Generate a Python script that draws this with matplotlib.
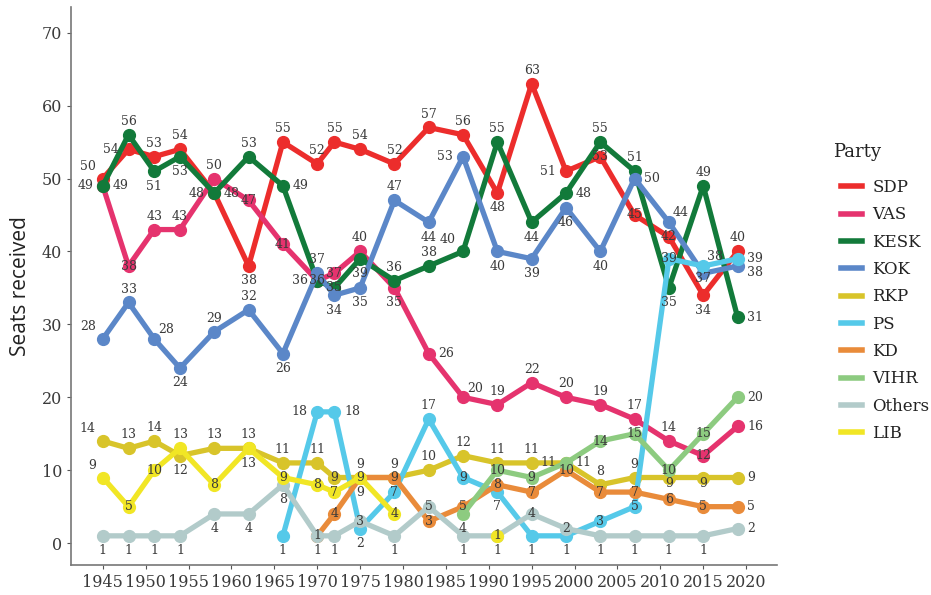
import numpy as np
import matplotlib
matplotlib.use("Agg")
from matplotlib import pyplot as plt

nan = np.nan

years = [1945, 1948, 1951, 1954, 1958, 1962, 1966, 1970, 1972, 1975, 1979,
         1983, 1987, 1991, 1995, 1999, 2003, 2007, 2011, 2015, 2019]

sdp = [50, 54, 53, 54, 48, 38, 55, 52, 55, 54, 52, 57, 56, 48, 63, 51, 53, 45, 42, 34, 40]
vas = [49, 38, 43, 43, 50, 47, 41, 36, 37, 40, 35, 26, 20, 19, 22, 20, 19, 17, 14, 12, 16]
kesk = [49, 56, 51, 53, 48, 53, 49, 36, 35, 39, 36, 38, 40, 55, 44, 48, 55, 51, 35, 49, 31]
kok = [28, 33, 28, 24, 29, 32, 26, 37, 34, 35, 47, 44, 53, 40, 39, 46, 40, 50, 44, 37, 38]
rkp = [14, 13, 14, 12, 13, 13, 11, 11, 9, 9, 9, 10, 12, 11, 11, 11, 8, 9, 9, 9, 9]
ps = [nan, nan, nan, nan, nan, nan, 1, 18, 18, 2, 7, 17, 9, 7, 1, 1, 3, 5, 39, 38, 39]
kd = [nan, nan, nan, nan, nan, nan, nan, 1, 4, 9, 9, 3, 5, 8, 7, 10, 7, 7, 6, 5, 5]
vihr = [nan] * 12 + [4, 10, 9, 11, 14, 15, 10, 15, 20]
others = [1, 1, 1, 1, 4, 4, 8, 1, 1, 3, 1, 5, 1, 1, 4, 2, 1, 1, 1, 1, 2]
lib = [9, 5, 10, 13, 8, 13, 9, 8, 7, 9, 4, nan, nan, 1, nan, nan, nan, nan, nan, nan, nan]

parties = ["SDP", "VAS", "KESK", "KOK", "RKP", "PS", "KD", "VIHR", "Others", "LIB"]
seats = [sdp, vas, kesk, kok, rkp, ps, kd, vihr, others, lib]
colours = ["#EC2D2C", "#E5336E", "#127A3A", "#5B87C8", "#D8C42A",
           "#55C9E9", "#E98B3A", "#8DCB80", "#B2CBCA", "#F1E625"]

# where each number label sits relative to its point
# a above, b below, l left, r right, ul/ur upper left/right, br lower right,
# c on the point, cb just under the point
lab_pos = [
    "ul l a a l b a a a a a a a b a l c c c b a",
    "r c a a a c c c c a b r ur a a a a a a c r",
    "l a b b r a r l c b a a ul a b r a a b a r",
    "ul a ur b a a b a b b a b l b b b b r ur cb br",
    "ul a a b a a a a c a a a a a a r a a cb cb r",
    "- - - - - - b l r b c a c b b b c c c ur r",
    "- - - - - - - c c b c c c c c c c c c c r",
    "- - - - - - - - - - - - b c c l c c c c r",
    "b b b b b b b b b c b c b b c c b b b b r",
    "ul c c a c b c c c c c - - c - - - - - - -",
]
offsets = {"a": ((0, 5), "center", "bottom"), "b": ((0, -6), "center", "top"),
           "l": ((-7, 0), "right", "center"), "r": ((7, 0), "left", "center"),
           "ul": ((-5, 4), "right", "bottom"), "ur": ((3, 2), "left", "bottom"),
           "br": ((7, -5), "left", "center"), "c": ((0, 0), "center", "center"),
           "cb": ((0, -4), "center", "center")}

serif = "DejaVu Serif"
txtcol = "#3a3a3a"

fig = plt.figure(figsize=(9.31, 5.95), dpi=100)
ax = fig.add_axes([0.0763, 0.0504, 0.7583, 0.9376])

for i, (name, vals, col) in enumerate(zip(parties, seats, colours)):
    y = np.array(vals, dtype=float)
    ax.plot(years, y, color=col, lw=3.8, marker="o", ms=8.5,
            solid_capstyle="round", label=name, zorder=2 + i)

for i, vals in enumerate(seats):
    pos = lab_pos[i].split()
    for j, v in enumerate(vals):
        if np.isnan(v):
            continue
        off, ha, va = offsets[pos[j]]
        ax.annotate("%d" % v, (years[j], v), xytext=off,
                    textcoords="offset points", ha=ha, va=va,
                    fontsize=9, family=serif, color=txtcol, zorder=20)

ax.set_xlim(1941.3, 2023.6)
ax.set_ylim(-3, 73.5)
ax.set_xticks(range(1945, 2021, 5))
ax.set_yticks(range(0, 71, 10))
ax.tick_params(colors="#555555", labelcolor=txtcol, length=3, labelsize=11.5)
for lab in ax.get_xticklabels() + ax.get_yticklabels():
    lab.set_family(serif)
for s in ["top", "right"]:
    ax.spines[s].set_visible(False)
for s in ["left", "bottom"]:
    ax.spines[s].set_color("#777777")
    ax.spines[s].set_linewidth(1.2)

ax.set_ylabel("Seats received", fontsize=15, family="Open Sans", color="#222222", labelpad=8)

fig.text(833 / 931, 1 - 152 / 595, "Party", family=serif, fontsize=13,
         color="#222222", ha="left", va="center")
handles = [plt.Line2D([], [], color=c, lw=4) for c in colours]
leg = fig.legend(handles, parties, loc="upper left",
                 bbox_to_anchor=(0.887, 0.7243), frameon=False,
                 prop={"family": serif, "size": 12}, handlelength=1.3,
                 labelspacing=0.62, handletextpad=0.6)
for t in leg.get_texts():
    t.set_color("#222222")

fig.savefig("out.png", dpi=100)
